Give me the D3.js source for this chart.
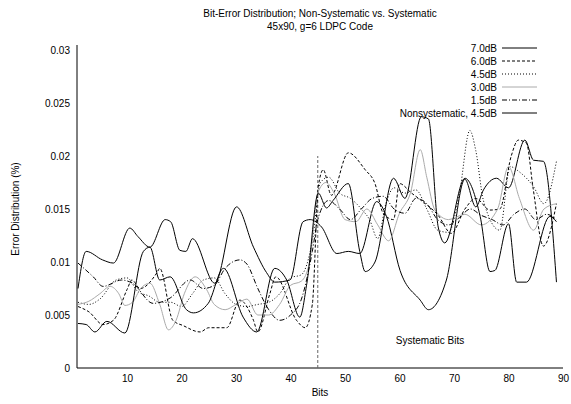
<!DOCTYPE html>
<html>
<head>
<meta charset="utf-8">
<script src="https://cdn.jsdelivr.net/npm/d3@7"></script>
<style>
  body { margin: 0; background: #fff; }
  svg { font-family: "Liberation Sans", Arial, sans-serif; }
  .axis text { font-size: 10px; fill: #000; }
  .axis path { stroke: #000; }
</style>
</head>
<body>
<svg id="chart" width="571" height="404"></svg>
<script>
// values (bit index, error fraction)
var s70Bits = [1, 2.5, 5.5, 7.5, 10.5, 12, 14.2, 17, 18, 19.7, 20.8, 22, 26.1, 30.1, 33.2, 35.6, 37.1, 39.9, 42.3, 43.6, 45.7, 48.5, 50.6, 52.7, 55.8, 57.6, 60.1, 63.8, 65.3, 68.6, 72, 74, 75.4, 77.8, 80, 83, 84.6, 86.4, 88.8];
var s70Vals = [.0075, .0110, .0102, .0099, .0132, .0124, .0114, .0140, .0138, .0111, .0110, .0122, .0080, .0152, .0114, .0090, .0081, .0083, .0138, .0140, .0133, .0108, .0110, .0108, .0157, .0143, .0092, .0064, .0055, .0083, .0178, .0152, .0168, .0179, .0170, .0215, .0196, .0195, .0081];

var s60Bits = [1, 3, 5.6, 7.5, 10, 10.9, 12.4, 15.5, 16, 18.4, 20.3, 23.4, 25, 28.3, 30.7, 33.2, 34, 36.2, 37.3, 41.1, 42.7, 44, 45.1, 46, 47.5, 50.6, 53.7, 55.5, 57, 58.9, 60, 62.2, 64, 67.1, 69.5, 72, 74, 76.6, 78.4, 80.5, 81.8, 83.3, 84.5, 86.4, 88.8];
var s60Vals = [.0058, .0053, .0041, .0045, .0074, .0083, .0075, .0090, .0094, .0045, .0040, .0034, .0038, .0038, .0064, .0045, .0034, .0070, .0086, .0045, .0038, .0060, .0171, .0187, .0163, .0203, .0187, .0174, .0146, .0140, .0174, .0165, .0158, .0144, .0127, .0150, .0160, .0149, .0150, .0200, .0215, .0212, .0170, .0115, .0155];

var s45Bits = [1, 3, 5, 8, 10, 12, 14, 16, 18, 20, 22, 24, 26, 28, 30, 32, 34, 36, 38, 40, 42, 44, 45.5, 47, 49, 51, 53, 54.5, 56, 57.5, 59, 61, 63, 65, 67, 69, 71, 72.9, 74, 75.4, 78.4, 80.3, 82, 84.6, 86.5, 88.8];
var s45Vals = [.0062, .0060, .0065, .0083, .0085, .0072, .0068, .0062, .0062, .0058, .0070, .0083, .0085, .0070, .0060, .0058, .0060, .0062, .0070, .0085, .0088, .0120, .0175, .0180, .0165, .0160, .0150, .0140, .0122, .0155, .0170, .0165, .0168, .0150, .0130, .0128, .0165, .0224, .0205, .0158, .0130, .0190, .0185, .0171, .0155, .0195];

var s30Bits = [1, 3, 5, 6.9, 8.5, 9.6, 11, 12.5, 14.2, 16, 17.6, 19, 20.5, 22.5, 24.6, 26, 28, 30, 32, 34, 36, 38, 40, 42, 43.5, 45, 46.5, 48, 50, 52, 54, 56, 58, 60, 62, 63.8, 65, 66.5, 69, 72, 75, 78, 80, 82, 84.6, 86.5, 88.8];
var s30Vals = [.0060, .0063, .0070, .0077, .0070, .0059, .0062, .0075, .0080, .0060, .0036, .0045, .0070, .0086, .0074, .0060, .0055, .0060, .0065, .0050, .0050, .0060, .0078, .0082, .0100, .0165, .0175, .0165, .0140, .0138, .0150, .0135, .0120, .0146, .0165, .0206, .0180, .0149, .0140, .0145, .0135, .0150, .0190, .0160, .0130, .0150, .0155];

var s15Bits = [1, 3.8, 5.6, 9, 11, 14.8, 17.9, 21.6, 24, 26, 28, 30.7, 32, 34, 36, 38, 40, 42, 44, 45, 47, 49, 51, 53, 55, 57, 59, 61, 63, 65, 67, 69, 71, 73, 75, 77, 79, 81, 83, 85, 87, 88.8];
var s15Vals = [.0099, .0086, .0077, .0083, .0080, .0061, .0066, .0083, .0075, .0078, .0094, .0102, .0098, .0075, .0055, .0045, .0050, .0065, .0110, .0140, .0158, .0150, .0140, .0150, .0160, .0162, .0150, .0146, .0160, .0155, .0140, .0135, .0142, .0150, .0144, .0140, .0135, .0145, .0150, .0140, .0145, .0140];

var nsBits = [1, 2.5, 4.1, 6.3, 9.6, 13, 14.2, 16, 17.9, 20.9, 22.2, 24.9, 27.7, 31.3, 33.8, 37.1, 39.3, 41.7, 43, 45.1, 46.6, 47.8, 50.6, 52.7, 53.7, 55.5, 58.9, 61, 64, 65.3, 67.1, 68.3, 72, 74.8, 76.6, 77.5, 80, 81.5, 83.3, 87.6, 88.8];
var nsVals = [.0042, .0041, .0034, .0044, .0033, .0110, .0114, .0083, .0086, .0055, .0052, .0061, .0094, .0048, .0034, .0094, .0083, .0048, .0080, .0165, .0151, .0158, .0174, .0110, .0091, .0100, .0179, .0160, .0237, .0235, .0133, .0118, .0179, .0143, .0091, .0092, .0136, .0081, .0081, .0143, .0138];

var seriesNames = ["7.0dB", "6.0dB", "4.5dB", "3.0dB", "1.5dB", "Nonsystematic, 4.5dB"];
var xTicks = [10, 20, 30, 40, 50, 60, 70, 80, 90];
var yTicks = [0, 0.005, 0.01, 0.015, 0.02, 0.025, 0.03];
var boundaryBit = 45;

var svg = d3.select("#chart");
var width = +svg.attr("width"), height = +svg.attr("height");

svg.append("rect").attr("width", width).attr("height", height).attr("fill", "#fff");

var x = d3.scaleLinear().domain([1, 90]).range([78, 563]);
var y = d3.scaleLinear().domain([0, 0.03]).range([368, 50]);

var styles = [
  {stroke: "#000", dash: null},
  {stroke: "#000", dash: "3,2"},
  {stroke: "#000", dash: "1,2"},
  {stroke: "#aaa", dash: null},
  {stroke: "#000", dash: "5,2,1,2"},
  {stroke: "#000", dash: null}
];

var series = [
  {bits: s70Bits, vals: s70Vals},
  {bits: s60Bits, vals: s60Vals},
  {bits: s45Bits, vals: s45Vals},
  {bits: s30Bits, vals: s30Vals},
  {bits: s15Bits, vals: s15Vals},
  {bits: nsBits, vals: nsVals}
].map(function(s, i) {
  return {
    name: seriesNames[i],
    style: styles[i],
    points: s.bits.map(function(b, j) { return [b, s.vals[j]]; })
  };
});

// title
svg.append("text")
  .attr("x", 320).attr("y", 17)
  .attr("text-anchor", "middle")
  .attr("font-size", "10px")
  .text("Bit-Error Distribution; Non-Systematic vs. Systematic");
svg.append("text")
  .attr("x", 320).attr("y", 30)
  .attr("text-anchor", "middle")
  .attr("font-size", "10px")
  .text("45x90, g=6 LDPC Code");

// axes
var xAxis = svg.append("g")
  .attr("class", "axis")
  .attr("transform", "translate(0,368)")
  .call(d3.axisBottom(x).tickValues(xTicks).tickSize(0).tickPadding(7).tickSizeOuter(0));
xAxis.select(".domain").attr("d", "M77,0H563");

var yAxis = svg.append("g")
  .attr("class", "axis")
  .attr("transform", "translate(77,0)")
  .call(d3.axisLeft(y).tickValues(yTicks).tickSize(0).tickPadding(7).tickSizeOuter(0)
    .tickFormat(function(d) { return d === 0 ? "0" : String(+d.toFixed(3)); }));
yAxis.select(".domain").attr("d", "M0,45V368");

svg.append("text")
  .attr("x", 320).attr("y", 396)
  .attr("text-anchor", "middle")
  .attr("font-size", "10px")
  .text("Bits");

svg.append("text")
  .attr("transform", "translate(19,209) rotate(-90)")
  .attr("text-anchor", "middle")
  .attr("font-size", "10px")
  .text("Error Distribution (%)");

// systematic boundary
svg.append("line")
  .attr("x1", x(boundaryBit)).attr("x2", x(boundaryBit))
  .attr("y1", y(0)).attr("y2", y(0.02))
  .attr("stroke", "#666")
  .attr("stroke-width", 1)
  .attr("stroke-dasharray", "3,2");

svg.append("text")
  .attr("x", 430).attr("y", 344)
  .attr("text-anchor", "middle")
  .attr("font-size", "10px")
  .text("Systematic Bits");

var line = d3.line()
  .x(function(d) { return x(d[0]); })
  .y(function(d) { return y(d[1]); })
  .curve(d3.curveMonotoneX);

svg.selectAll("path.series")
  .data(series)
  .enter().append("path")
  .attr("class", "series")
  .attr("d", function(d) { return line(d.points); })
  .attr("fill", "none")
  .attr("stroke", function(d) { return d.style.stroke; })
  .attr("stroke-width", 1)
  .attr("stroke-dasharray", function(d) { return d.style.dash; });

// legend
var legend = svg.append("g");
var rows = legend.selectAll("g")
  .data(series)
  .enter().append("g")
  .attr("transform", function(d, i) { return "translate(0," + (48 + i * 13) + ")"; });

rows.append("text")
  .attr("x", 497).attr("y", 4)
  .attr("text-anchor", "end")
  .attr("font-size", "10px")
  .text(function(d) { return d.name; });

rows.append("line")
  .attr("x1", 502).attr("x2", 537)
  .attr("y1", 0).attr("y2", 0)
  .attr("stroke", function(d) { return d.style.stroke; })
  .attr("stroke-width", 1)
  .attr("stroke-dasharray", function(d) { return d.style.dash; });
</script>
</body>
</html>
